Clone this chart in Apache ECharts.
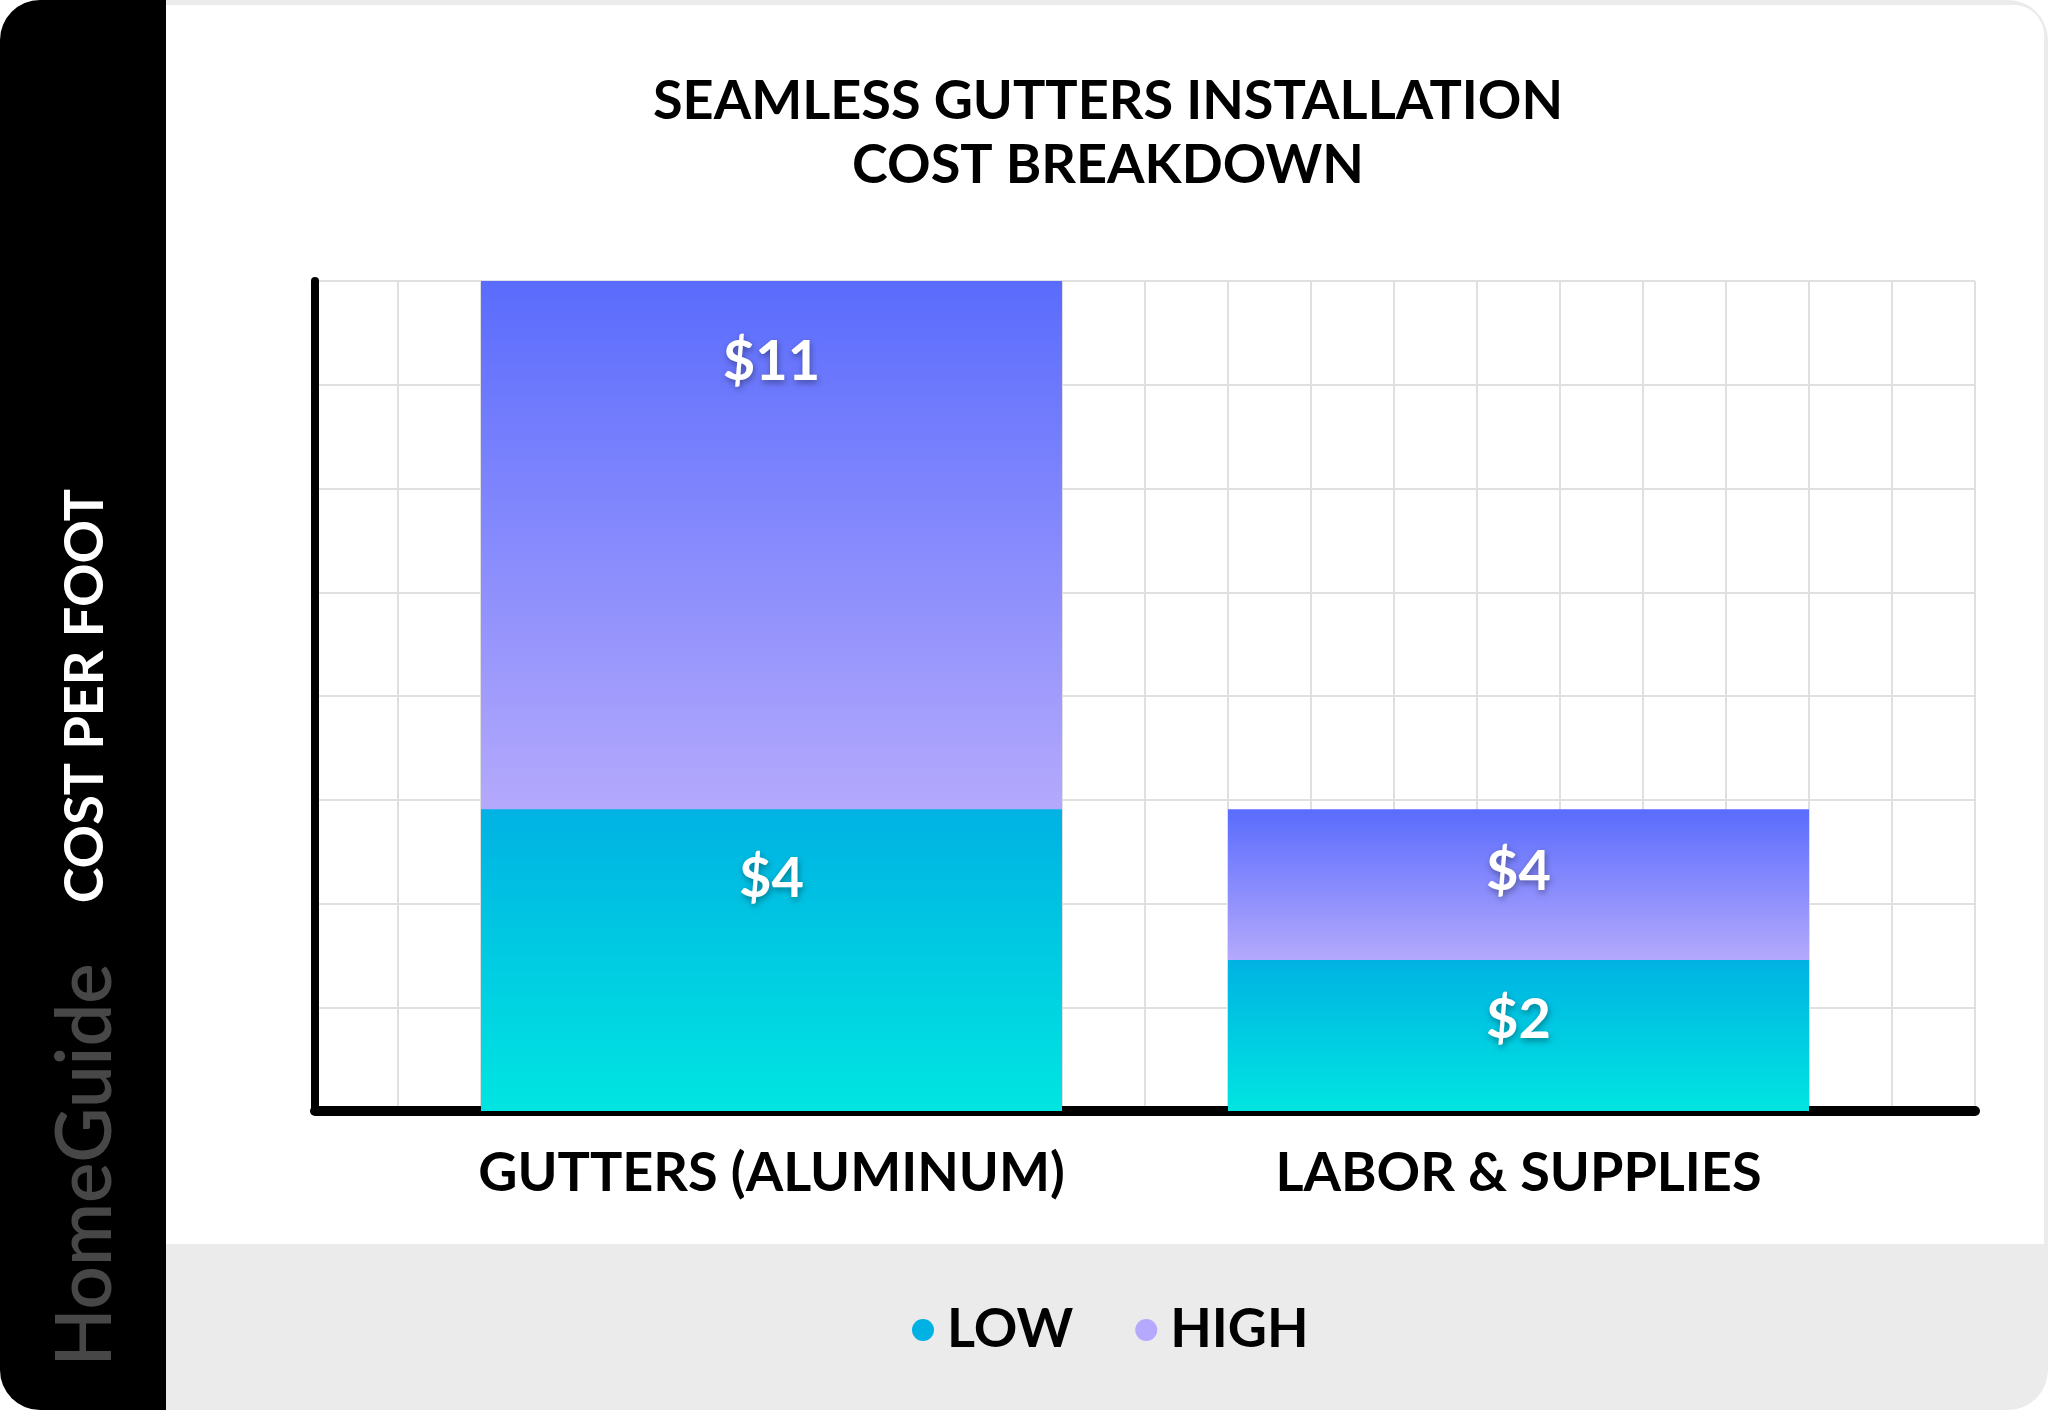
<!DOCTYPE html>
<html>
<head>
<meta charset="utf-8">
<script src="https://cdn.jsdelivr.net/npm/echarts@6/dist/echarts.min.js"></script>
<style>
html,body{margin:0;padding:0;background:#ffffff;}
#chart{width:2048px;height:1410px;}
</style>
</head>
<body>
<div id="chart"></div>
<script>
var titleLines = ['SEAMLESS GUTTERS INSTALLATION', 'COST BREAKDOWN'];
var categories = ['GUTTERS (ALUMINUM)', 'LABOR & SUPPLIES'];
var lowValues = [4, 2];
var highValues = [11, 4];
var seriesNames = ['LOW', 'HIGH'];
var yAxisName = 'COST PER FOOT';
var brand = 'HomeGuide';

var FONT = 'Lato, "Noto Sans", sans-serif';
var chart = echarts.init(document.getElementById('chart'), null, {renderer: 'canvas'});

var HIGH_TOP = '#5a6cfd', HIGH_BOTTOM = '#b4a9fc';
var LOW_TOP = '#00b2e3', LOW_BOTTOM = '#00e5e1';

function grad(top, bottom, stop) {
  return new echarts.graphic.LinearGradient(0, 0, 0, 1, [
    {offset: 0, color: top},
    {offset: stop, color: bottom},
    {offset: 1, color: bottom}
  ]);
}

var labelBase = {
  show: true,
  position: 'insideTop',
  color: '#ffffff',
  fontFamily: FONT,
  fontWeight: 'bold',
  fontSize: 56,
  textShadowColor: 'rgba(0,0,0,0.35)',
  textShadowBlur: 6,
  textShadowOffsetX: 1,
  textShadowOffsetY: 3,
  formatter: function (p) { return '$' + p.value; }
};

var lowData = lowValues.map(function (v, i) {
  return {value: v, label: {distance: [42, 32][i]}, itemStyle: {color: grad(LOW_TOP, LOW_BOTTOM, 1)}};
});
var highData = highValues.map(function (v, i) {
  // gradient spans only the part of the bar visible above the LOW bar
  var stop = (v - lowValues[i]) / v;
  return {value: v, label: {distance: [53, 35][i]}, itemStyle: {color: grad(HIGH_TOP, HIGH_BOTTOM, stop)}};
});

var option = {
  backgroundColor: '#ffffff',
  animation: false,
  graphic: [
    {type: 'rect', z: -10, shape: {x: 0, y: 0, width: 2048, height: 1410, r: 40}, style: {fill: '#ebebeb'}},
    {type: 'rect', z: -9, shape: {x: 160, y: 5, width: 1884, height: 1239, r: [0, 30, 0, 0]}, style: {fill: '#ffffff'}},
    {type: 'rect', z: -8, shape: {x: 0, y: 0, width: 166, height: 1410, r: [40, 0, 0, 40]}, style: {fill: '#000000'}},
    {type: 'text', z: 10, x: 86, y: 1165, rotation: Math.PI / 2,
      style: {text: brand, fill: '#474747', font: '600 76px ' + FONT, align: 'center', verticalAlign: 'middle'}}
  ],
  title: {
    text: titleLines.join('\n'),
    left: 1108,
    top: 70,
    padding: 0,
    textAlign: 'center',
    textStyle: {fontFamily: FONT, fontWeight: 'bold', fontSize: 54, lineHeight: 64, color: '#000000'}
  },
  legend: {
    data: [
      {name: seriesNames[0], itemStyle: {color: '#00b2e3'}},
      {name: seriesNames[1], itemStyle: {color: '#b4a9fc'}}
    ],
    left: 907,
    top: 1298,
    icon: 'circle',
    itemWidth: 22,
    itemHeight: 22,
    itemGap: 62,
    textStyle: {fontFamily: FONT, fontWeight: 'bold', fontSize: 54, color: '#000000', padding: [0, 0, 0, 8]}
  },
  grid: [
    {left: 315, right: 73, top: 281, bottom: 299},
    {left: 398, right: 156, top: 281, bottom: 299}
  ],
  xAxis: [
    {type: 'value', gridIndex: 0, min: 0, max: 20, interval: 1,
      axisLine: {show: true, onZero: false, lineStyle: {color: '#000000', width: 10}},
      axisTick: {show: false}, axisLabel: {show: false},
      splitLine: {show: true, lineStyle: {color: '#e0e0e0', width: 2}}},
    {type: 'category', gridIndex: 1, data: categories,
      axisLine: {show: false}, axisTick: {show: false},
      axisLabel: {show: true, interval: 0, margin: 36, color: '#000000', fontFamily: FONT, fontWeight: 'bold', fontSize: 54},
      splitLine: {show: false}}
  ],
  yAxis: [
    {type: 'value', gridIndex: 0, min: 0, max: 11, interval: 1.375,
      name: yAxisName, nameLocation: 'middle', nameRotate: 90, nameGap: 202,
      nameTextStyle: {color: '#ffffff', fontFamily: FONT, fontWeight: 'bold', fontSize: 54},
      axisLine: {show: true, onZero: false, lineStyle: {color: '#000000', width: 8}},
      axisTick: {show: false}, axisLabel: {show: false},
      splitLine: {show: true, lineStyle: {color: '#e0e0e0', width: 2}}},
    {type: 'value', gridIndex: 1, min: 0, max: 11, show: false, splitLine: {show: false}}
  ],
  series: [
    {name: seriesNames[0], type: 'bar', xAxisIndex: 1, yAxisIndex: 1, z: 3,
      barWidth: '77.78%', barGap: '-100%',
      itemStyle: {color: LOW_TOP},
      label: labelBase,
      data: lowData},
    {name: seriesNames[1], type: 'bar', xAxisIndex: 1, yAxisIndex: 1, z: 2,
      barWidth: '77.78%', barGap: '-100%',
      itemStyle: {color: HIGH_BOTTOM},
      label: labelBase,
      data: highData}
  ]
};
chart.setOption(option);
</script>
</body>
</html>
